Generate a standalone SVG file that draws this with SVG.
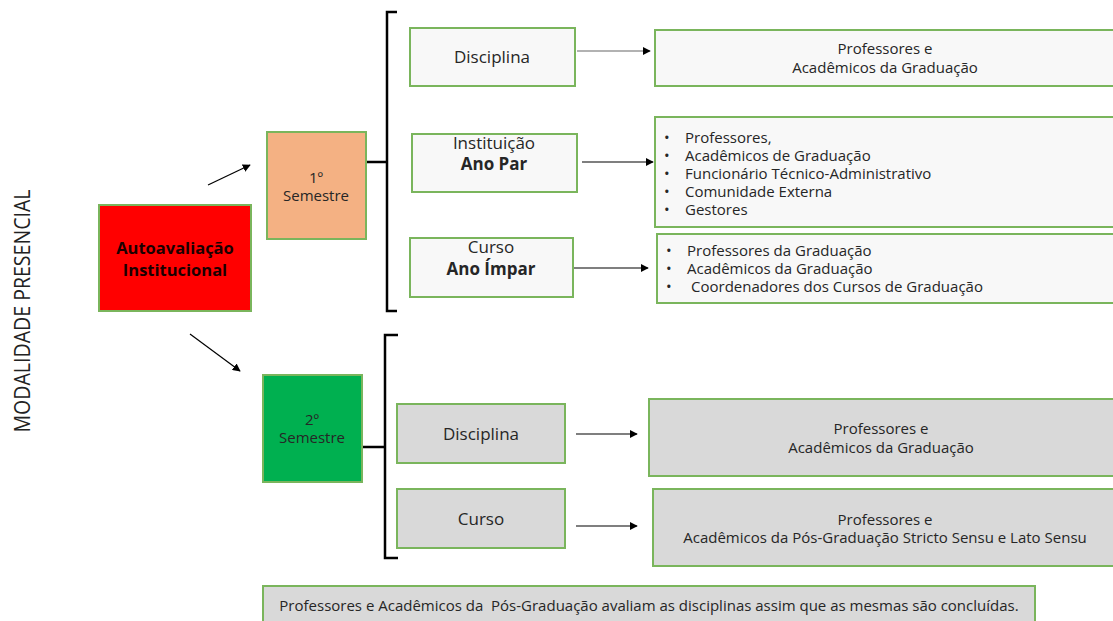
<svg xmlns="http://www.w3.org/2000/svg" width="1113" height="621" viewBox="0 0 1113 621">
<style>
text{font-family:"Open Sans","Noto Sans",sans-serif;fill:#262626;font-size:15px}
.box{stroke:#7AB55C;stroke-width:2}
.lt{fill:#F8F8F8}
.gr{fill:#D9D9D9}
.c{text-anchor:middle}
.b{font-weight:bold}
.lb{font-size:17px}
.con{stroke:#000;stroke-width:1.2;fill:none}
.brace{stroke:#000;stroke-width:2.5;fill:none}
</style>
<defs>
<marker id="ah" viewBox="0 0 10 10" refX="9" refY="5" markerWidth="8" markerHeight="8" markerUnits="userSpaceOnUse" orient="auto">
<path d="M0,0 L10,5 L0,10 z" fill="#000"/>
</marker>
</defs>
<g id="title">
<text transform="translate(30,311) rotate(-90)" class="c" style="font-size:21px;fill:#222" textLength="243" lengthAdjust="spacingAndGlyphs">MODALIDADE PRESENCIAL</text>
</g>
<g id="connectors">
<line class="con" x1="208" y1="185" x2="250" y2="165" marker-end="url(#ah)"/>
<line class="con" x1="190" y1="334" x2="240" y2="371" marker-end="url(#ah)"/>
<path class="brace" d="M397,12 H387 V311 H397 M366,162 H387"/>
<path class="brace" d="M398,335 H385 V558 H398 M361,447 H385"/>
<line class="con" x1="577" y1="51" x2="650" y2="51" marker-end="url(#ah)" style="stroke:#666"/>
<line class="con" x1="582" y1="162" x2="653" y2="162" marker-end="url(#ah)"/>
<line class="con" x1="574" y1="268" x2="648" y2="268" marker-end="url(#ah)"/>
<line class="con" x1="576" y1="434" x2="637" y2="434" marker-end="url(#ah)"/>
<line class="con" x1="576" y1="526" x2="637" y2="526" marker-end="url(#ah)"/>
</g>
<g id="autoavaliacao">
<rect class="box" x="99" y="205" width="152" height="106" fill="#FF0000"/>
<text class="c b" x="175" y="254" style="font-size:16.5px;fill:#1a0000">Autoavaliação</text>
<text class="c b" x="175" y="276" style="font-size:16.5px;fill:#1a0000">Institucional</text>
</g>
<g id="sem1">
<rect class="box" x="267" y="132" width="99" height="107" fill="#F4B183"/>
<text class="c" x="316" y="183">1º</text>
<text class="c" x="316" y="201">Semestre</text>
</g>
<g id="sem2">
<rect class="box" x="263" y="375" width="99" height="107" fill="#00B050"/>
<text class="c" x="312" y="425">2º</text>
<text class="c" x="312" y="443">Semestre</text>
</g>
<g id="disciplina1">
<rect class="box lt" x="410" y="28" width="165" height="58"/>
<text class="c lb" x="492" y="63">Disciplina</text>
</g>
<g id="disciplina1-publico">
<rect class="box lt" x="655" y="30" width="462" height="56"/>
<text class="c" x="885" y="54">Professores e</text>
<text class="c" x="885" y="73">Acadêmicos da Graduação</text>
</g>
<g id="instituicao">
<rect class="box lt" x="412" y="134" width="165" height="58"/>
<text class="c lb" x="494" y="149">Instituição</text>
<text class="c b lb" x="494" y="170">Ano Par</text>
</g>
<g id="instituicao-publico">
<rect class="box lt" x="655" y="117" width="462" height="110"/>
<text x="664" y="143">•</text><text x="685" y="143">Professores,</text>
<text x="664" y="161">•</text><text x="685" y="161">Acadêmicos de Graduação</text>
<text x="664" y="179">•</text><text x="685" y="179">Funcionário Técnico-Administrativo</text>
<text x="664" y="197">•</text><text x="685" y="197">Comunidade Externa</text>
<text x="664" y="215">•</text><text x="685" y="215">Gestores</text>
</g>
<g id="curso1">
<rect class="box lt" x="410" y="238" width="163" height="59"/>
<text class="c lb" x="491" y="253">Curso</text>
<text class="c b lb" x="491" y="275">Ano Ímpar</text>
</g>
<g id="curso1-publico">
<rect class="box lt" x="657" y="234" width="460" height="69"/>
<text x="666" y="256">•</text><text x="687" y="256">Professores da Graduação</text>
<text x="666" y="274">•</text><text x="687" y="274">Acadêmicos da Graduação</text>
<text x="666" y="292">•</text><text x="691" y="292">Coordenadores dos Cursos de Graduação</text>
</g>
<g id="disciplina2">
<rect class="box gr" x="397" y="404" width="168" height="59"/>
<text class="c lb" x="481" y="440">Disciplina</text>
</g>
<g id="disciplina2-publico">
<rect class="box gr" x="649" y="399" width="468" height="77"/>
<text class="c" x="881" y="434">Professores e</text>
<text class="c" x="881" y="453">Acadêmicos da Graduação</text>
</g>
<g id="curso2">
<rect class="box gr" x="397" y="489" width="168" height="59"/>
<text class="c lb" x="481" y="525">Curso</text>
</g>
<g id="curso2-publico">
<rect class="box gr" x="653" y="489" width="464" height="77"/>
<text class="c" x="885" y="525">Professores e</text>
<text class="c" x="885" y="543">Acadêmicos da Pós-Graduação Stricto Sensu e Lato Sensu</text>
</g>
<g id="nota">
<rect class="box gr" x="263" y="586" width="772" height="40"/>
<text class="c" x="649" y="611" xml:space="preserve">Professores e Acadêmicos da  Pós-Graduação avaliam as disciplinas assim que as mesmas são concluídas.</text>
</g>
</svg>
